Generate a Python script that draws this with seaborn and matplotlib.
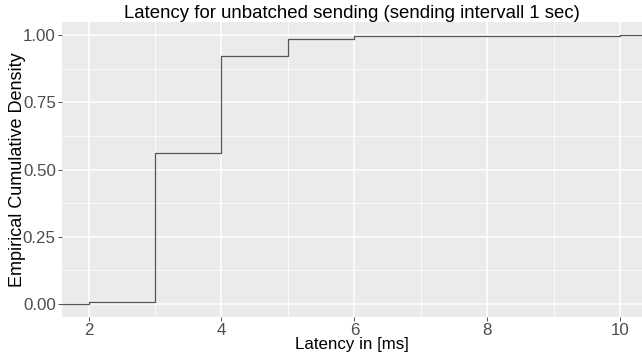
import numpy as np
import matplotlib
matplotlib.use("Agg")
import matplotlib.pyplot as plt
import seaborn as sns

# --- data: latency samples (ms) and how often each value was seen ---
latency_ms = [2, 3, 4, 5, 6, 7, 8, 9, 10]
counts = [5, 555, 365, 63, 9, 1, 0, 1, 1]

x_ticks = [2, 4, 6, 8, 10]
y_ticks = [0.00, 0.25, 0.50, 0.75, 1.00]

x_lim = (1.6, 10.33)
y_lim = (-0.05, 1.05)

# ECDF like ggplot's stat_ecdf (padded out to the panel edges)
cum = np.cumsum(counts) / np.sum(counts)
ecdf_x = np.r_[x_lim[0], latency_ms, x_lim[1]]
ecdf_y = np.r_[0.0, cum, 1.0]

# --- ggplot-ish theme ---
sns.set_theme(style="darkgrid", rc={
    "axes.facecolor": "#EBEBEB",
    "grid.color": "white",
    "axes.edgecolor": "none",
    "xtick.bottom": True,
    "ytick.left": True,
    "xtick.color": "#333333",
    "ytick.color": "#333333",
})
plt.rcParams["font.family"] = ["Liberation Sans", "DejaVu Sans"]

fig = plt.figure(figsize=(6.42, 3.56), dpi=100)
ax = fig.add_axes([62 / 642, 1 - 317 / 356, 1 - 62 / 642, (317 - 22) / 356])

sns.lineplot(x=ecdf_x, y=ecdf_y, drawstyle="steps-post", color="#555555",
             linewidth=0.9, estimator=None, sort=False, ax=ax)

ax.set_xlim(*x_lim)
ax.set_ylim(*y_lim)
ax.set_xticks(x_ticks)
ax.set_yticks(y_ticks)
ax.set_xticklabels([str(t) for t in x_ticks])
ax.set_yticklabels([f"{t:.2f}" for t in y_ticks])
ax.set_xticks([3, 5, 7, 9], minor=True)
ax.set_yticks([0.125, 0.375, 0.625, 0.875], minor=True)
ax.grid(which="major", color="white", linewidth=1.1)
ax.grid(which="minor", color="white", linewidth=0.55)
ax.tick_params(which="major", length=3, width=0.6, labelsize=12.2,
               labelcolor="#4D4D4D", pad=1.5)
ax.tick_params(which="minor", length=0)

ax.set_title("Latency for unbatched sending (sending intervall 1 sec)",
             fontsize=13.4, color="black", pad=3)
ax.set_xlabel("Latency in [ms]", fontsize=12.2, color="black", labelpad=-1)
ax.set_ylabel("Empirical Cumulative Density", fontsize=13, color="black")
ax.yaxis.set_label_coords(-0.062, 0.5)

fig.savefig("out.png", dpi=100)
